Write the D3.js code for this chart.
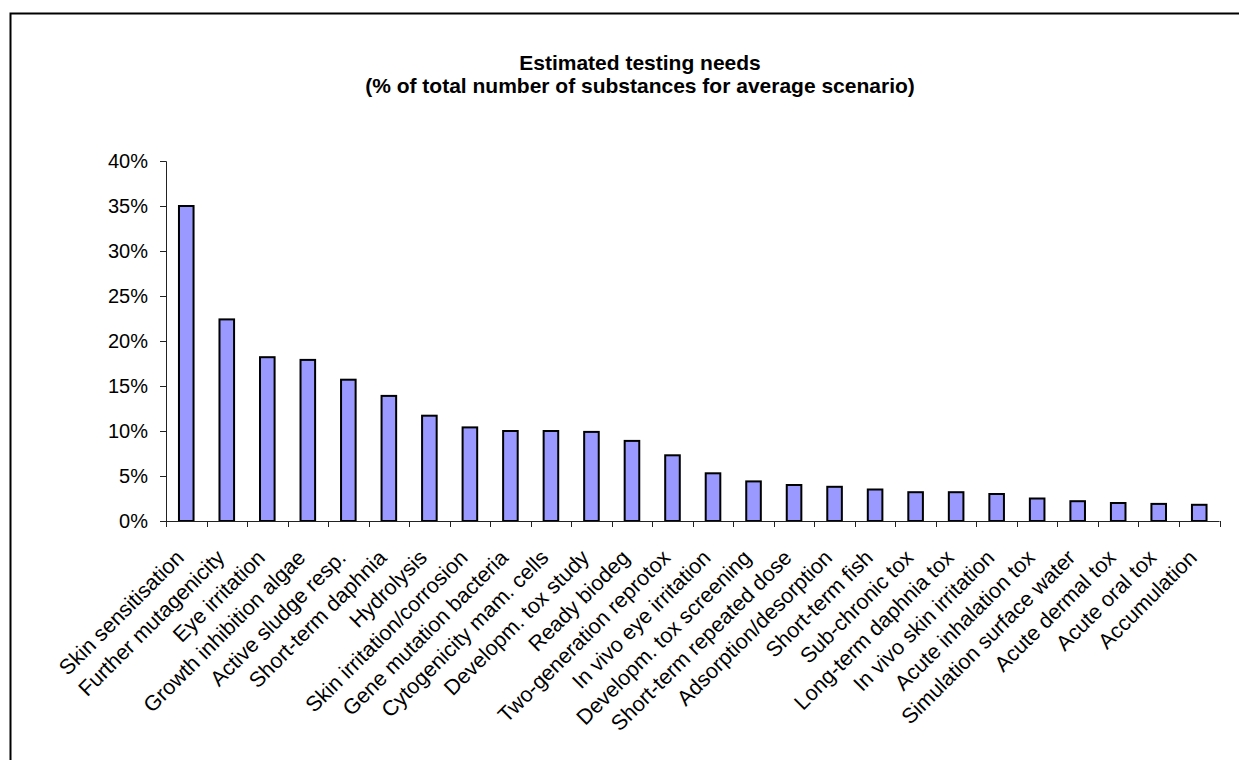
<!DOCTYPE html>
<html>
<head>
<meta charset="utf-8">
<script src="https://cdn.jsdelivr.net/npm/d3@7"></script>
<style>
  html, body { margin: 0; padding: 0; background: #fff; }
  svg { display: block; font-family: "Liberation Sans", Arial, sans-serif; }
</style>
</head>
<body>
<svg id="chart" width="1239" height="760"></svg>
<script>
// Testing needs per endpoint, share of all substances (average scenario)
const categories = [
  "Skin sensitisation", "Further mutagenicity", "Eye irritation",
  "Growth inhibition algae", "Active sludge resp.", "Short-term daphnia",
  "Hydrolysis", "Skin irritation/corrosion", "Gene mutation bacteria",
  "Cytogenicity mam. cells", "Developm. tox study", "Ready biodeg",
  "Two-generation reprotox", "In vivo eye irritation", "Developm. tox screening",
  "Short-term repeated dose", "Adsorption/desorption", "Short-term fish",
  "Sub-chronic tox", "Long-term daphnia tox", "In vivo skin irritation",
  "Acute inhalation tox", "Simulation surface water", "Acute dermal tox",
  "Acute oral tox", "Accumulation"
];
const values = [
  0.350, 0.224, 0.182, 0.179, 0.157, 0.139,
  0.117, 0.104, 0.100, 0.100, 0.099, 0.089,
  0.073, 0.053, 0.044, 0.040, 0.038, 0.035,
  0.032, 0.032, 0.030, 0.025, 0.022, 0.020,
  0.019, 0.018
];
const yTicks = [0, 0.05, 0.10, 0.15, 0.20, 0.25, 0.30, 0.35, 0.40];
const titleLines = [
  "Estimated testing needs",
  "(% of total number of substances for average scenario)"
];

const svg = d3.select("#chart");

// chart frame
svg.append("rect")
  .attr("x", 10.5).attr("y", 13.5)
  .attr("width", 1260).attr("height", 780)
  .attr("fill", "none").attr("stroke", "#000").attr("stroke-width", 2);

// plot area
const plotLeft = 166, plotRight = 1219.5, plotTop = 161, plotBottom = 521;
const data = categories.map((c, i) => ({ c, v: values[i] }));

const gap = 0.64;
const x = d3.scaleBand()
  .domain(categories)
  .range([plotLeft, plotRight])
  .paddingInner(gap)
  .paddingOuter(gap / 2);

const y = d3.scaleLinear().domain([0, 0.40]).range([plotBottom, plotTop]);

// title
const titleX = 640;
const title = svg.append("text")
  .attr("x", titleX).attr("y", 70)
  .attr("text-anchor", "middle")
  .attr("font-weight", "bold")
  .attr("font-size", 21);
titleLines.forEach((t, i) => {
  title.append("tspan").attr("x", titleX).attr("dy", i === 0 ? 0 : 23).text(t);
});

// y axis
const yAxis = d3.axisLeft(y)
  .tickValues(yTicks)
  .tickFormat(d3.format(".0%"))
  .tickSize(6)
  .tickPadding(12);
const gy = svg.append("g")
  .attr("transform", `translate(${plotLeft},0)`)
  .call(yAxis);
gy.select(".domain").attr("stroke", "#222");
gy.selectAll(".tick line").attr("stroke", "#222");
gy.selectAll(".tick text")
  .attr("font-size", 20)
  .attr("fill", "#000")
  .attr("font-family", "'Liberation Sans', Arial, sans-serif");

// bars
svg.append("g").selectAll("rect")
  .data(data)
  .join("rect")
  .attr("x", d => x(d.c))
  .attr("width", x.bandwidth())
  .attr("y", d => y(d.v))
  .attr("height", d => y(0) - y(d.v))
  .attr("fill", "#9999FF")
  .attr("stroke", "#000")
  .attr("stroke-width", 2);

// x axis: baseline with ticks at category boundaries
const gx = svg.append("g");
gx.append("line")
  .attr("x1", plotLeft).attr("x2", plotRight)
  .attr("y1", plotBottom + 0.5).attr("y2", plotBottom + 0.5)
  .attr("stroke", "#222");
gx.selectAll("line.tick")
  .data(d3.range(categories.length + 1))
  .join("line")
  .attr("class", "tick")
  .attr("x1", i => Math.round(plotLeft + i * x.step()) + 0.5)
  .attr("x2", i => Math.round(plotLeft + i * x.step()) + 0.5)
  .attr("y1", plotBottom)
  .attr("y2", plotBottom + 6)
  .attr("stroke", "#222");

// rotated category labels
gx.selectAll("text")
  .data(categories)
  .join("text")
  .attr("transform", c => `translate(${x(c) + x.bandwidth() / 2 - 1},${plotBottom + 38}) rotate(-45)`)
  .attr("text-anchor", "end")
  .attr("font-size", 21.5)
  .attr("fill", "#000")
  .text(c => c);
</script>
</body>
</html>
